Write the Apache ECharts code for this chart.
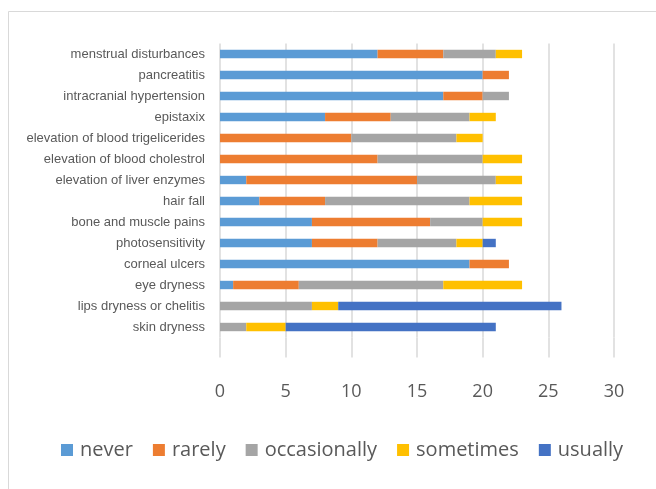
<!DOCTYPE html>
<html>
<head>
<meta charset="utf-8">
<style>
  html, body { margin: 0; padding: 0; background: #fff; }
  #chart { width: 656px; height: 489px; }
</style>
<script src="https://cdn.jsdelivr.net/npm/echarts@6/dist/echarts.min.js"></script>
</head>
<body>
<div id="chart"></div>
<script>
// Side effects, listed bottom-to-top as drawn on the category axis
const categories = [
  'skin dryness',
  'lips dryness or chelitis',
  'eye dryness',
  'corneal ulcers',
  'photosensitivity',
  'bone and muscle pains',
  'hair fall',
  'elevation of liver enzymes',
  'elevation of blood cholestrol',
  'elevation of blood trigelicerides',
  'epistaxix',
  'intracranial hypertension',
  'pancreatitis',
  'menstrual disturbances'
];

// Counts per frequency (same order as categories)
const never        = [0, 0, 1, 19, 7, 7, 3, 2, 0, 0, 8, 17, 20, 12];
const rarely       = [0, 0, 5, 3, 5, 9, 5, 13, 12, 10, 5, 3, 2, 5];
const occasionally = [2, 7, 11, 0, 6, 4, 11, 6, 8, 8, 6, 2, 0, 4];
const sometimes    = [3, 2, 6, 0, 2, 3, 4, 2, 3, 2, 2, 0, 0, 2];
const usually      = [16, 17, 0, 0, 1, 0, 0, 0, 0, 0, 0, 0, 0, 0];

const xTicks = { min: 0, max: 30, interval: 5 };

const seriesDefs = [
  { name: 'never', data: never, color: '#5B9BD5' },
  { name: 'rarely', data: rarely, color: '#ED7D31' },
  { name: 'occasionally', data: occasionally, color: '#A5A5A5' },
  { name: 'sometimes', data: sometimes, color: '#FFC000' },
  { name: 'usually', data: usually, color: '#4472C4' }
];

const gridColor = '#d9d9d9';

const chart = echarts.init(document.getElementById('chart'), null, { renderer: 'canvas' });

chart.setOption({
  animation: false,
  backgroundColor: '#ffffff',
  graphic: [{
    type: 'rect',
    left: 6, top: 9,
    shape: { width: 700, height: 600 },
    style: { fill: 'none', stroke: gridColor, lineWidth: 1 },
    silent: true
  }],
  grid: { left: 220, right: 42, top: 43.5, height: 294, containLabel: false },
  legend: {
    top: 435,
    left: 56,
    itemWidth: 12,
    itemHeight: 12,
    itemGap: 20,
    icon: 'rect',
    textStyle: { fontFamily: 'Open Sans', fontSize: 20, color: '#595959', padding: [0, 0, 0, 2] },
    data: seriesDefs.map(s => s.name)
  },
  xAxis: {
    type: 'value',
    min: xTicks.min, max: xTicks.max, interval: xTicks.interval,
    axisLine: { show: false },
    // gridlines continue below the plot as long tick marks
    axisTick: { show: true, length: 20, lineStyle: { color: gridColor, width: 1.5 } },
    axisLabel: { fontFamily: 'Open Sans', fontSize: 18, color: '#595959', margin: 45 },
    splitLine: { show: true, lineStyle: { color: gridColor, width: 1.5 } }
  },
  yAxis: {
    type: 'category',
    data: categories,
    axisLine: { show: false },
    axisTick: { show: false },
    axisLabel: { fontFamily: 'Liberation Sans', fontSize: 13, color: '#595959', margin: 15 }
  },
  series: seriesDefs.map(s => ({
    name: s.name,
    type: 'bar',
    stack: 'total',
    data: s.data,
    barWidth: '40%',
    itemStyle: { color: s.color }
  }))
});
</script>
</body>
</html>
